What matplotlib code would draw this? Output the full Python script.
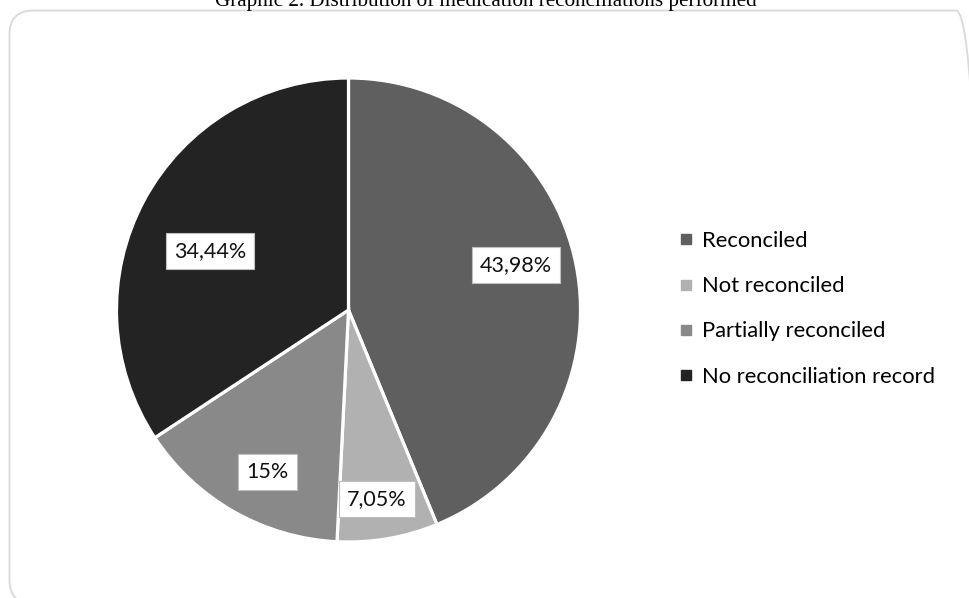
import numpy as np
import matplotlib
matplotlib.use("Agg")
import matplotlib.pyplot as plt
from matplotlib.patches import FancyBboxPatch
from matplotlib.lines import Line2D

categories = ["Reconciled", "Not reconciled", "Partially reconciled", "No reconciliation record"]
values = [43.98, 7.05, 15, 34.44]
value_labels = ["43,98%", "7,05%", "15%", "34,44%"]
colors = ["#5f5f5f", "#b1b1b1", "#898989", "#232323"]
title = "Graphic 2. Distribution of medication reconciliations performed"

# label placement (radius fraction, angle offset in degrees) relative to wedge middle
label_radius = [0.747, 0.824, 0.782, 0.649]
label_dangle = [3.8, -1.2, 3.1, 5.2]

W, H = 970, 598
fig = plt.figure(figsize=(W / 100, H / 100), dpi=100)
fig.patch.set_facecolor("white")

# background axes in pixel units (origin bottom-left) for the rounded border
bg = fig.add_axes([0, 0, 1, 1])
bg.set_xlim(0, W)
bg.set_ylim(0, H)
bg.axis("off")
top, left, right, bottom = 10.5, 9.5, 980, 604
border = FancyBboxPatch((left, H - bottom), right - left, bottom - top,
                        boxstyle="round,pad=0,rounding_size=24",
                        facecolor="none", edgecolor="#d9d9d9", linewidth=1.3)
bg.add_patch(border)

fig.text(486 / W, 1 - 6 / H, title, ha="center", va="baseline",
         family="Liberation Serif", fontsize=15.2, color="black")

cx, cy, R = 348.5, 310, 232
ax = fig.add_axes([(cx - R) / W, (H - cy - R) / H, 2 * R / W, 2 * R / H])
wedges, _ = ax.pie(values, colors=colors, startangle=90, counterclock=False,
                   wedgeprops=dict(edgecolor="white", linewidth=2.3))
ax.set_xlim(-1, 1)
ax.set_ylim(-1, 1)
ax.set_aspect("equal")
ax.axis("off")

for w, lab, rf, da in zip(wedges, value_labels, label_radius, label_dangle):
    mid = np.deg2rad((w.theta1 + w.theta2) / 2 + da)
    ax.text(rf * np.cos(mid), rf * np.sin(mid), lab, ha="center", va="center",
            family="Lato", fontsize=15.5, color="#111111",
            bbox=dict(boxstyle="square,pad=0.38", facecolor="white",
                      edgecolor="#bfbfbf", linewidth=0.8))

handles = [Line2D([0], [0], marker="s", linestyle="none", markersize=6.5,
                  markerfacecolor=c, markeredgecolor=c) for c in colors]
leg = fig.legend(handles, categories, loc="upper left",
                 bbox_to_anchor=(680 / W, 1 - 231 / H), frameon=False,
                 prop=dict(family="Lato", size=15.8), labelspacing=1.15,
                 handlelength=0.55, handletextpad=0.45, borderaxespad=0, borderpad=0)

fig.savefig("out.png", dpi=100, facecolor="white")
